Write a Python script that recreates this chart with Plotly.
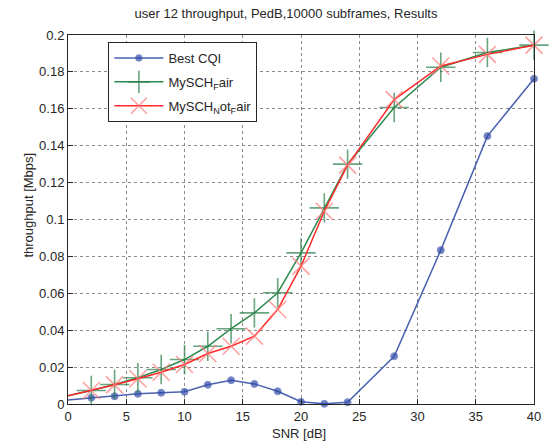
import plotly.graph_objects as go

snr = [0, 2, 4, 6, 8, 10, 12, 14, 16, 18, 20, 22, 24, 28, 32, 36, 40]
best_cqi = [0.0022, 0.0034, 0.0042, 0.0055, 0.0061, 0.0066, 0.0104, 0.0129, 0.0109, 0.0069,
            0.0012, 0.0001, 0.0010, 0.0259, 0.0834, 0.1452, 0.1763]
mysch_fair = [0.0045, 0.0073, 0.0106, 0.0142, 0.0187, 0.0241, 0.0313, 0.0408, 0.0494, 0.0603,
              0.0819, 0.1063, 0.1300, 0.1607, 0.1825, 0.1905, 0.1945]
mysch_notfair = [0.0045, 0.0073, 0.0104, 0.0137, 0.0172, 0.0214, 0.0274, 0.0313, 0.0368, 0.0512,
                 0.0747, 0.1045, 0.1295, 0.1650, 0.1832, 0.1895, 0.1945]
names = ["Best CQI", "MySCH<sub>F</sub>air", "MySCH<sub>N</sub>ot<sub>F</sub>air"]
x_ticks = [0, 5, 10, 15, 20, 25, 30, 35, 40]
y_ticks = [0, 0.02, 0.04, 0.06, 0.08, 0.1, 0.12, 0.14, 0.16, 0.18, 0.2]
y_tick_text = ["0", "0.02", "0.04", "0.06", "0.08", "0.1", "0.12", "0.14", "0.16", "0.18", "0.2"]

font = "Liberation Sans, Arial, sans-serif"
txt = "#262626"

def sizes(s, n):
    return [0] + [s] * (n - 1)

fig = go.Figure()
fig.add_trace(go.Scatter(
    x=snr, y=best_cqi, name=names[0], mode="lines+markers",
    line=dict(color="#4a60b0", width=1.5),
    marker=dict(symbol="circle", size=sizes(7, len(snr)), color="#2f4aa8"),
    legendgroup="a", cliponaxis=False))
fig.add_trace(go.Scatter(
    x=snr, y=mysch_fair, name=names[1], mode="lines+markers",
    line=dict(color="#2e8a4e", width=1.5),
    marker=dict(symbol="cross-thin", size=sizes(21, len(snr)), color="#2e8a4e",
                line=dict(color="#2a8048", width=1.6)),
    legendgroup="b", cliponaxis=False))
fig.add_trace(go.Scatter(
    x=snr, y=mysch_notfair, name=names[2], mode="lines+markers",
    line=dict(color="#ff2a2a", width=1.5),
    marker=dict(symbol="x-thin", size=sizes(17, len(snr)), color="#ff7a7a",
                line=dict(color="#ff7a7a", width=1.6)),
    legendgroup="c", cliponaxis=False))

axis_common = dict(
    showline=True, mirror=True, linecolor=txt, linewidth=1,
    ticks="inside", ticklen=5, tickcolor=txt,
    showgrid=True, gridcolor="#8a8a8a", griddash="dot", gridwidth=1,
    zeroline=False, tickfont=dict(family=font, size=13, color=txt),
)

L, R, T, B = 68, 541, 35, 404
W, H = 553, 443
pw, ph = R - L, B - T

fig.update_layout(
    width=W, height=H,
    margin=dict(l=L, r=W - R, t=T, b=H - B),
    paper_bgcolor="white", plot_bgcolor="white",
    font=dict(family=font, size=13, color=txt),
    title=dict(text="user 12 throughput, PedB,10000 subframes, Results",
               x=286 / W, xref="container", xanchor="center",
               y=1 - 13 / H, yref="container", yanchor="middle",
               font=dict(family=font, size=13, color=txt)),
    xaxis=dict(range=[0, 40], tickvals=x_ticks, ticktext=[str(v) for v in x_ticks], **axis_common),
    yaxis=dict(range=[0, 0.2], tickvals=y_ticks, ticktext=y_tick_text, **axis_common),
    showlegend=True,
    legend=dict(x=(109 - L) / pw, y=(B - 42) / ph, xanchor="left", yanchor="top",
                bordercolor=txt, borderwidth=1, bgcolor="white",
                font=dict(family=font, size=13, color=txt),
                traceorder="grouped", tracegroupgap=4, itemwidth=49),
    annotations=[
        dict(text="SNR [dB]", xref="paper", yref="paper", x=(302 - L) / pw,
             y=-(433 - B) / ph, xanchor="center", yanchor="middle",
             showarrow=False, font=dict(family=font, size=13, color=txt)),
        dict(text="throughput [Mbps]", xref="paper", yref="paper", x=-(L - 28) / pw,
             y=(B - 205) / ph, xanchor="center", yanchor="middle", textangle=-90,
             showarrow=False, font=dict(family=font, size=13, color=txt)),
    ],
)

fig.write_html("out.html", config={"displayModeBar": False},
               post_script="document.body.style.margin='0';")
